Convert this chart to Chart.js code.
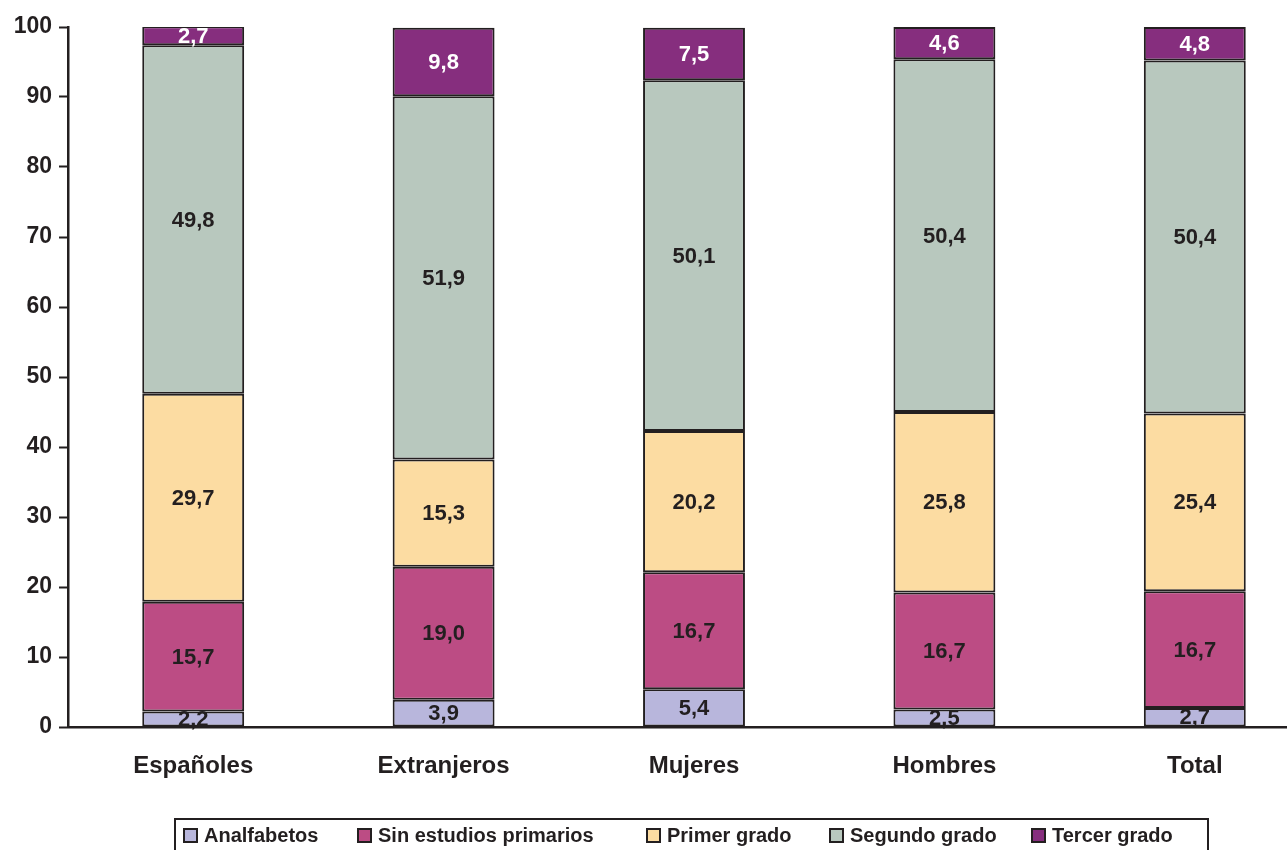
<!DOCTYPE html>
<html>
<head>
<meta charset="utf-8">
<script src="https://cdn.jsdelivr.net/npm/chart.js@4/dist/chart.umd.min.js"></script>
<style>
    html, body { margin: 0; padding: 0; background: #fff; overflow: hidden; }
    #wrap { width: 1287px; height: 850px; overflow: hidden; }
    #wrap div { width: 1320px; height: 850px; }
</style>
</head>
<body>
<div id="wrap"><div><canvas id="chart"></canvas></div></div>
<script>
var categories = ['Españoles', 'Extranjeros', 'Mujeres', 'Hombres', 'Total'];
var analfabetos = [2.2, 3.9, 5.4, 2.5, 2.7];
var sinEstudios = [15.7, 19.0, 16.7, 16.7, 16.7];
var primerGrado = [29.7, 15.3, 20.2, 25.8, 25.4];
var segundoGrado = [49.8, 51.9, 50.1, 50.4, 50.4];
var tercerGrado = [2.7, 9.8, 7.5, 4.6, 4.8];
var yTicks = [0, 10, 20, 30, 40, 50, 60, 70, 80, 90, 100];

var seriesNames = ['Analfabetos', 'Sin estudios primarios', 'Primer grado', 'Segundo grado', 'Tercer grado'];
var seriesColors = ['#b8b6dc', '#bc4c84', '#fcdca2', '#b8c8be', '#862e7e'];
var labelColors = ['#231f20', '#231f20', '#231f20', '#231f20', '#ffffff'];
// left edge of each legend swatch, in px
var legendX = [184, 358, 647, 830, 1032];

var ink = '#231f20';
var fontFamily = '"Liberation Sans", Arial, sans-serif';

function fmt(v) {
    return v.toFixed(1).replace('.', ',');
}

var barLabels = {
    id: 'barLabels',
    afterDatasetsDraw: function (chart) {
        var ctx = chart.ctx;
        ctx.save();
        ctx.font = 'bold 22px ' + fontFamily;
        ctx.textAlign = 'center';
        ctx.textBaseline = 'middle';
        chart.data.datasets.forEach(function (ds, i) {
            var meta = chart.getDatasetMeta(i);
            ctx.fillStyle = labelColors[i];
            meta.data.forEach(function (bar, j) {
                var y = (bar.y + bar.base) / 2;
                ctx.fillText(fmt(ds.data[j]), bar.x, y + 1);
            });
        });
        ctx.restore();
    }
};

var boxLegend = {
    id: 'boxLegend',
    afterDraw: function (chart) {
        var ctx = chart.ctx;
        ctx.save();
        ctx.strokeStyle = ink;
        ctx.lineWidth = 2;
        ctx.strokeRect(175, 819, 1208 - 175, 40);
        ctx.font = 'bold 20px ' + fontFamily;
        ctx.textBaseline = 'middle';
        ctx.textAlign = 'left';
        chart.data.datasets.forEach(function (ds, i) {
            var x = legendX[i];
            ctx.fillStyle = seriesColors[i];
            ctx.fillRect(x, 829, 13, 13);
            ctx.lineWidth = 2;
            ctx.strokeRect(x, 829, 13, 13);
            ctx.fillStyle = ink;
            ctx.fillText(ds.label, x + 20, 836);
        });
        ctx.restore();
    }
};

var seriesData = [analfabetos, sinEstudios, primerGrado, segundoGrado, tercerGrado];
var datasets = seriesData.map(function (values, i) {
    return {
        label: seriesNames[i],
        data: values,
        backgroundColor: seriesColors[i],
        borderColor: ink,
        borderWidth: 2,
        borderSkipped: false,
        barPercentage: 0.407,
        categoryPercentage: 1
    };
});

new Chart(document.getElementById('chart'), {
    type: 'bar',
    data: { labels: categories, datasets: datasets },
    options: {
        responsive: true,
        maintainAspectRatio: false,
        animation: false,
        layout: { padding: { left: 0, right: 0, top: 27, bottom: 0 } },
        plugins: {
            legend: { display: false },
            tooltip: { enabled: false }
        },
        scales: {
            x: {
                stacked: true,
                grid: { display: false },
                border: { display: true, color: ink, width: 2.5 },
                ticks: {
                    color: ink,
                    padding: 17,
                    font: { family: fontFamily, size: 24, weight: 'bold' }
                },
                afterFit: function (scale) { scale.height = 123; }
            },
            y: {
                stacked: true,
                min: 0,
                max: 100,
                afterBuildTicks: function (scale) {
                    scale.ticks = yTicks.map(function (v) { return { value: v }; });
                },
                grid: {
                    drawOnChartArea: false,
                    drawTicks: true,
                    tickLength: 9,
                    tickColor: ink,
                    tickWidth: 2
                },
                border: { display: true, color: ink, width: 2.5 },
                ticks: {
                    color: ink,
                    padding: 7,
                    font: { family: fontFamily, size: 23, weight: 'bold' }
                },
                afterFit: function (scale) { scale.width = 68; }
            }
        }
    },
    plugins: [barLabels, boxLegend]
});
</script>
</body>
</html>
